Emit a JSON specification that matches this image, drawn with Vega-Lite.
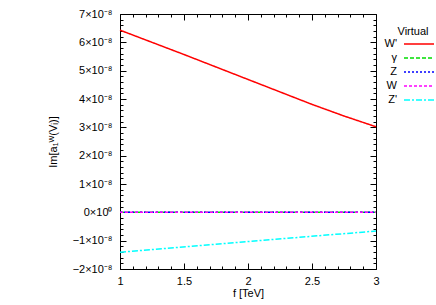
{
  "$schema": "https://vega.github.io/schema/vega-lite/v6.json",
  "width": 256,
  "height": 255,
  "autosize": {"type": "none"},
  "padding": {"left": 120, "top": 14, "right": 60, "bottom": 36},
  "config": {
    "view": {"stroke": "black", "strokeWidth": 1},
    "font": "Liberation Sans",
    "axis": {
      "domain": false,
      "grid": false,
      "tickColor": "black",
      "labelColor": "black",
      "titleColor": "black",
      "labelFontSize": 11,
      "titleFontSize": 11,
      "titleFontWeight": "normal",
      "labelFlush": false,
      "labelOverlap": false
    },
    "legend": {
      "labelFontSize": 11,
      "titleFontSize": 11,
      "titleFontWeight": "normal",
      "labelColor": "black",
      "titleColor": "black"
    }
  },
  "data": {
    "values": [
      {"series": "W'", "f": 1.0, "v": 6.43e-8},
      {"series": "W'", "f": 1.25, "v": 6.0e-8},
      {"series": "W'", "f": 1.5, "v": 5.57e-8},
      {"series": "W'", "f": 1.75, "v": 5.13e-8},
      {"series": "W'", "f": 2.0, "v": 4.69e-8},
      {"series": "W'", "f": 2.25, "v": 4.25e-8},
      {"series": "W'", "f": 2.5, "v": 3.81e-8},
      {"series": "W'", "f": 2.75, "v": 3.4e-8},
      {"series": "W'", "f": 3.0, "v": 3.02e-8},
      {"series": "γ", "f": 1.0, "v": 0},
      {"series": "γ", "f": 3.0, "v": 0},
      {"series": "Z", "f": 1.0, "v": 0},
      {"series": "Z", "f": 3.0, "v": 0},
      {"series": "W", "f": 1.0, "v": 0},
      {"series": "W", "f": 3.0, "v": 0},
      {"series": "Z'", "f": 1.0, "v": -1.41e-8},
      {"series": "Z'", "f": 2.0, "v": -1.03e-8},
      {"series": "Z'", "f": 3.0, "v": -0.66e-8}
    ]
  },
  "layer": [
    {
      "mark": {"type": "line", "strokeWidth": 1.5},
      "encoding": {
        "x": {
          "field": "f", "type": "quantitative",
          "scale": {"domain": [1, 3], "nice": false, "zero": false},
          "axis": {"orient": "bottom", "values": [1, 1.5, 2, 2.5, 3], "format": "~g", "ticks": false, "labelPadding": 6, "title": "f [TeV]", "titlePadding": 1}
        },
        "y": {
          "field": "v", "type": "quantitative",
          "scale": {"domain": [-2e-8, 7e-8], "nice": false, "zero": false},
          "axis": {
            "orient": "left",
            "values": [-2e-8, -1e-8, 0, 1e-8, 2e-8, 3e-8, 4e-8, 5e-8, 6e-8, 7e-8],
            "labelExpr": "datum.value == 0 ? '0×10⁰' : (datum.value < 0 ? '−' : '') + abs(round(datum.value*1e8)) + '×10⁻⁸'",
            "ticks": false,
            "labelPadding": 8,
            "title": "Im[a₁ᵂ(Vᵢ)]",
            "titlePadding": 14
          }
        },
        "color": {
          "field": "series", "type": "nominal", "title": "Virtual",
          "scale": {"domain": ["W'", "γ", "Z", "W", "Z'"], "range": ["#ff0000", "#00dd00", "#0000ff", "#ff00ff", "#00ffff"]},
          "legend": {"orient": "none", "legendX": 278, "legendY": 12, "symbolType": "M-3,0H3", "symbolSize": 100, "symbolStrokeWidth": 1.5, "labelAlign": "right", "labelOffset": -28, "rowPadding": 3.0, "padding": 0, "titleAnchor": "start", "titleAlign": "center", "titlePadding": 1}
        },
        "strokeDash": {
          "field": "series", "type": "nominal", "title": "Virtual",
          "scale": {"domain": ["W'", "γ", "Z", "W", "Z'"], "range": [[1, 0], [4, 2], [2, 2], [3, 2], [6, 2, 2, 2]]},
          "legend": {"orient": "none", "legendX": 278, "legendY": 12, "symbolType": "M-3,0H3", "symbolSize": 100, "symbolStrokeWidth": 1.5, "labelAlign": "right", "labelOffset": -28, "rowPadding": 3.0, "padding": 0, "titleAnchor": "start", "titleAlign": "center", "titlePadding": 1}
        }
      }
    },
    {
      "mark": {"type": "line", "opacity": 0},
      "encoding": {
        "x": {"field": "f", "type": "quantitative", "axis": {"orient": "bottom", "values": [1.1, 1.2, 1.3, 1.4, 1.6, 1.7, 1.8, 1.9, 2.1, 2.2, 2.3, 2.4, 2.6, 2.7, 2.8, 2.9], "tickSize": -3, "labels": false, "title": null}},
        "y": {"field": "v", "type": "quantitative", "axis": {"orient": "left", "values": [-1.8e-8, -1.6e-8, -1.4e-8, -1.2e-8, -0.8e-8, -0.6e-8, -0.4e-8, -0.2e-8, 0.2e-8, 0.4e-8, 0.6e-8, 0.8e-8, 1.2e-8, 1.4e-8, 1.6e-8, 1.8e-8, 2.2e-8, 2.4e-8, 2.6e-8, 2.8e-8, 3.2e-8, 3.4e-8, 3.6e-8, 3.8e-8, 4.2e-8, 4.4e-8, 4.6e-8, 4.8e-8, 5.2e-8, 5.4e-8, 5.6e-8, 5.8e-8, 6.2e-8, 6.4e-8, 6.6e-8, 6.8e-8], "tickSize": -3, "labels": false, "title": null}},
        "detail": {"field": "series"}
      }
    },
    {
      "mark": {"type": "line", "opacity": 0},
      "encoding": {
        "x": {"field": "f", "type": "quantitative", "axis": {"orient": "bottom", "values": [1, 1.5, 2, 2.5, 3], "tickSize": -6, "labels": false, "title": null}},
        "y": {"field": "v", "type": "quantitative", "axis": {"orient": "left", "values": [-2e-8, -1e-8, 0, 1e-8, 2e-8, 3e-8, 4e-8, 5e-8, 6e-8, 7e-8], "tickSize": -6, "labels": false, "title": null}},
        "detail": {"field": "series"}
      }
    },
    {
      "mark": {"type": "line", "opacity": 0},
      "encoding": {
        "x": {"field": "f", "type": "quantitative", "axis": {"orient": "top", "values": [1, 1.5, 2, 2.5, 3], "tickSize": -6, "labels": false, "title": null}},
        "y": {"field": "v", "type": "quantitative", "axis": {"orient": "right", "values": [-2e-8, -1e-8, 0, 1e-8, 2e-8, 3e-8, 4e-8, 5e-8, 6e-8, 7e-8], "tickSize": -6, "labels": false, "title": null}},
        "detail": {"field": "series"}
      }
    },
    {
      "mark": {"type": "line", "opacity": 0},
      "encoding": {
        "x": {"field": "f", "type": "quantitative", "axis": {"orient": "top", "values": [1.1, 1.2, 1.3, 1.4, 1.6, 1.7, 1.8, 1.9, 2.1, 2.2, 2.3, 2.4, 2.6, 2.7, 2.8, 2.9], "tickSize": -3, "labels": false, "title": null}},
        "y": {"field": "v", "type": "quantitative", "axis": {"orient": "right", "values": [-1.8e-8, -1.6e-8, -1.4e-8, -1.2e-8, -0.8e-8, -0.6e-8, -0.4e-8, -0.2e-8, 0.2e-8, 0.4e-8, 0.6e-8, 0.8e-8, 1.2e-8, 1.4e-8, 1.6e-8, 1.8e-8, 2.2e-8, 2.4e-8, 2.6e-8, 2.8e-8, 3.2e-8, 3.4e-8, 3.6e-8, 3.8e-8, 4.2e-8, 4.4e-8, 4.6e-8, 4.8e-8, 5.2e-8, 5.4e-8, 5.6e-8, 5.8e-8, 6.2e-8, 6.4e-8, 6.6e-8, 6.8e-8], "tickSize": -3, "labels": false, "title": null}},
        "detail": {"field": "series"}
      }
    }
  ],
  "resolve": {"axis": {"x": "independent", "y": "independent"}}
}
